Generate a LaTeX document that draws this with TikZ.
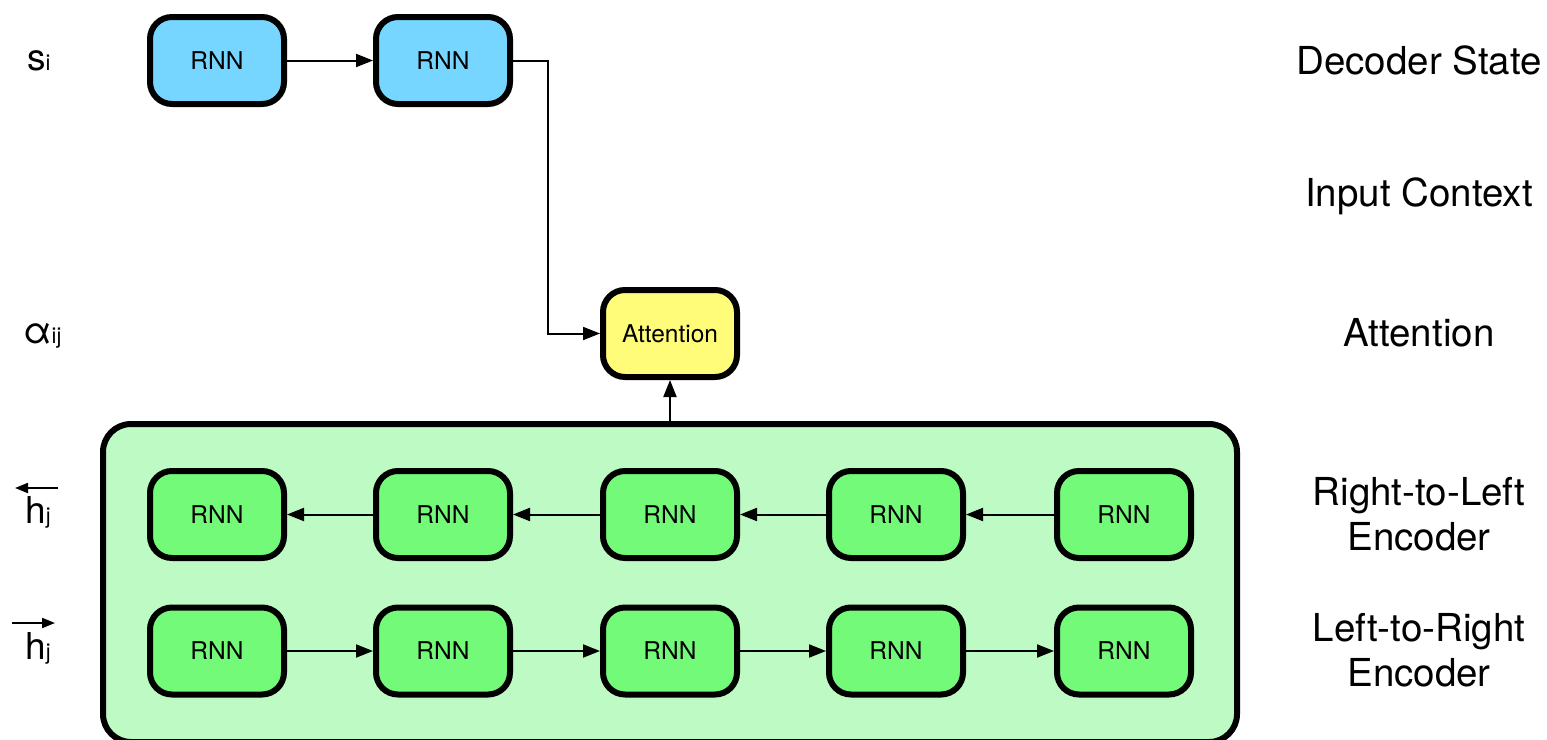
\documentclass[tikz,border=0pt]{standalone}
\usepackage{fontspec}
\setmainfont{TeX Gyre Heros}
\usetikzlibrary{arrows.meta}
\definecolor{skyc}{HTML}{76D6FF}
\definecolor{bananac}{HTML}{FFFC79}
\definecolor{florac}{HTML}{73FA79}
\definecolor{contc}{HTML}{BEFAC4}
\begin{document}
\begin{tikzpicture}[x=1pt,y=-1pt,
  rnnbox/.style={draw=black, line width=6pt, rounded corners=22pt,
    minimum width=134pt, minimum height=87pt, inner sep=0pt,
    font=\fontsize{24.5}{26}\selectfont},
  dec/.style={rnnbox, fill=skyc},
  encb/.style={rnnbox, fill=florac},
  attb/.style={rnnbox, fill=bananac},
  contbox/.style={draw=black, line width=6pt, rounded corners=28pt, fill=contc,
    minimum width=1134pt, minimum height=318pt, inner sep=0pt},
  conn/.style={line width=2pt, -{Triangle[length=17pt,width=13pt]}},
  rlab/.style={font=\fontsize{38.5}{45}\selectfont, align=center},
  llab/.style={font=\fontsize{37}{40}\selectfont, inner sep=0pt}
]
\useasboundingbox (0,0) rectangle (1547,739);

% container
\node[contbox] (enc) at (670,583) {};

% decoder
\node[dec] (d1) at (217,60.5) {RNN};
\node[dec] (d2) at (443,60.5) {RNN};
\draw[conn] (d1.east) -- (d2.west);

% attention
\node[attb] (att) at (670,333.5) {Attention};
\draw[conn] (d2.east) -- ++(35,0) |- (att.west);
\draw[conn] (enc.north) -- (att.south);

% encoders
\foreach \i/\x in {1/217,2/443,3/670,4/896,5/1124}{
  \node[encb] (r\i) at (\x,514.5) {RNN};
  \node[encb] (l\i) at (\x,651) {RNN};
}
\foreach \a/\b in {1/2,2/3,3/4,4/5}{
  \draw[conn] (r\b.west) -- (r\a.east);
  \draw[conn] (l\a.east) -- (l\b.west);
}

% right labels
\node[rlab] (t1) at (1419,60) {Decoder State};
\node[rlab] (t2) at (1419,196) {Input Context};
\node[rlab] (t3) at (1419,333) {Attention};
\node[rlab] (t4) at (1419,514) {Right-to-Left\\Encoder};
\node[rlab] (t5) at (1419,650) {Left-to-Right\\Encoder};

% left labels
\node[llab, anchor=base west] (si) at (27,70) {s{\fontsize{22}{24}\selectfont i}};
\node[llab, anchor=base west] (aij) at (23,343) {α{\fontsize{22}{24}\selectfont ij}};
\node[llab, anchor=base west] (hl) at (25,523) {h{\fontsize{22}{24}\selectfont j}};
\node[llab, anchor=base west] (hr) at (25,659) {h{\fontsize{22}{24}\selectfont j}};
\coordinate (hla) at (58,488);
\coordinate (hlb) at (15,488);
\coordinate (hra) at (12,623);
\coordinate (hrb) at (55,623);
\draw[line width=2pt, -{Triangle[length=13pt,width=10pt]}] (hla) -- (hlb);
\draw[line width=2pt, -{Triangle[length=13pt,width=10pt]}] (hra) -- (hrb);
\end{tikzpicture}
\end{document}
